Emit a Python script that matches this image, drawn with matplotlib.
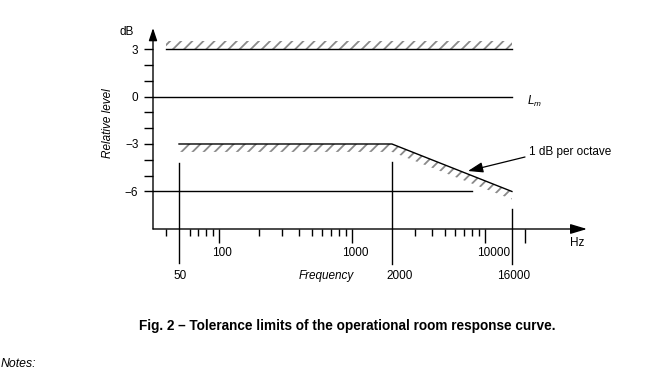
import matplotlib
matplotlib.use('Agg')
import matplotlib.pyplot as plt
import numpy as np

plt.rcParams['font.family'] = ['Liberation Sans', 'DejaVu Sans']
plt.rcParams['mathtext.fontset'] = 'custom'
plt.rcParams['mathtext.rm'] = 'Liberation Sans'
plt.rcParams['mathtext.it'] = 'Liberation Sans:italic'
plt.rcParams['hatch.linewidth'] = 1.3
plt.rcParams['hatch.color'] = '#8a8a8a'

# ---------------- data ----------------
y_major_ticks = [3, 0, -3, -6]
y_major_labels = ['3', '0', '\u22123', '\u22126']
y_minor_ticks = [2, 1, -1, -2, -4, -5]

x_decade_ticks = [100, 1000, 10000, 20000]
x_minor_ticks = [40, 60, 70, 80, 90,
                 200, 300, 400, 500, 600, 700, 800, 900,
                 3000, 4000, 5000, 6000, 7000, 8000, 9000]
row1_freqs = [100, 1000, 10000]
row1_labels = ['100', '1000', '10000']
row2_freqs = [50, 2000, 16000]
row2_labels = ['50', '2000', '16000']
marker_top_db = [-4.2, -4.15, -7.1]
marker_bottom_db = [-10.5, -10.6, -10.6]

upper_freq = [40, 16000]
upper_db = [3, 3]
lower_freq = [50, 2000, 16000]
lower_db = [-3, -3, -6]
lm_db = 0
lm_end_freq = 16000
minus6_db = -6
minus6_end_freq = 8000
hatch_depth_db = 0.5

# ---------------- layout (pixel geometry of the reference) ----------------
W, H = 651, 372
AX_L, AX_R, AX_B, AX_T = 153, 587, 229, 28
X100_PX, PX_DECADE = 219.0, 132.9
Y0_PX, PX_DB = 96.5, 15.83

def f_at(px):
    return 100 * 10 ** ((px - X100_PX) / PX_DECADE)

def db_at(py):
    return (Y0_PX - py) / PX_DB

fig = plt.figure(figsize=(W / 100, H / 100), dpi=100)
ax = fig.add_axes([AX_L / W, 1 - AX_B / H, (AX_R - AX_L) / W, (AX_B - AX_T) / H])
ax.set_xscale('log')
ax.set_xlim(f_at(AX_L), f_at(AX_R))
ax.set_ylim(db_at(AX_B), db_at(AX_T))
for s in ax.spines.values():
    s.set_visible(False)
ax.patch.set_alpha(0)

lw = 1.0
# axes with arrows
ax.annotate('', xy=(1, 0), xytext=(0, 0), xycoords='axes fraction',
            arrowprops=dict(arrowstyle='-|>,head_length=1.0,head_width=0.3',
                            color='k', lw=lw, shrinkA=0, shrinkB=0, mutation_scale=10))
ax.annotate('', xy=(0, 1), xytext=(0, 0), xycoords='axes fraction',
            arrowprops=dict(arrowstyle='-|>,head_length=0.75,head_width=0.25',
                            color='k', lw=lw, shrinkA=0, shrinkB=0, mutation_scale=10))

# ticks
ax.set_yticks(y_major_ticks)
ax.set_yticklabels(y_major_labels)
ax.set_yticks(y_minor_ticks, minor=True)
ax.tick_params(axis='y', which='both', length=6.5, width=lw, pad=4, labelsize=8.5)
ax.set_xticks(x_decade_ticks)
ax.set_xticks(x_minor_ticks, minor=True)
ax.xaxis.set_major_formatter(matplotlib.ticker.NullFormatter())
ax.xaxis.set_minor_formatter(matplotlib.ticker.NullFormatter())
ax.tick_params(axis='x', which='major', length=10, width=lw)
ax.tick_params(axis='x', which='minor', length=5, width=lw)

# hatched tolerance bands
ax.fill_between(upper_freq, upper_db, np.array(upper_db) + hatch_depth_db,
                facecolor='none', edgecolor='#8a8a8a', hatch='///', lw=0)
ax.fill_between(lower_freq, np.array(lower_db) - hatch_depth_db, lower_db,
                facecolor='none', edgecolor='#8a8a8a', hatch='///', lw=0)

# limit lines
ax.plot(upper_freq, upper_db, color='k', lw=lw)
ax.plot(lower_freq, lower_db, color='k', lw=lw)
ax.plot([f_at(AX_L), lm_end_freq], [lm_db, lm_db], color='k', lw=lw)
ax.plot([f_at(AX_L), minus6_end_freq], [minus6_db, minus6_db], color='k', lw=lw)

# vertical frequency markers
for f, t, b in zip(row2_freqs, marker_top_db, marker_bottom_db):
    ax.plot([f, f], [t, b], color='k', lw=lw, clip_on=False)

# frequency labels
fs = 8.5
row1_dx = [3, 3, 9]
for f, lab, dx in zip(row1_freqs, row1_labels, row1_dx):
    ax.annotate(lab, xy=(f, db_at(253)), xytext=(dx * 0.72, 0), textcoords='offset points',
                ha='center', va='center', fontsize=fs, annotation_clip=False)
row2_dx = [1, 8, 2]
for f, lab, dx in zip(row2_freqs, row2_labels, row2_dx):
    ax.annotate(lab, xy=(f, db_at(276)), xytext=(dx * 0.72, 0), textcoords='offset points',
                ha='center', va='center', fontsize=fs, annotation_clip=False)
ax.text(f_at(326), db_at(276), 'Frequency', style='italic', ha='center', va='center',
        fontsize=fs, clip_on=False)

# other labels
ax.text(f_at(527), db_at(101), r'$L_m$', ha='left', va='center', fontsize=fs, clip_on=False)
ax.text(f_at(529), db_at(152), '1 dB per octave', ha='left', va='center', fontsize=fs,
        clip_on=False)
ax.annotate('', xy=(f_at(468), db_at(171)), xytext=(f_at(525), db_at(157)),
            arrowprops=dict(arrowstyle='-|>,head_length=1.3,head_width=0.45',
                            color='k', lw=0.9, shrinkA=0, shrinkB=0, mutation_scale=7),
            annotation_clip=False)

fig.text(127 / W, 1 - 32 / H, 'dB', ha='center', va='center', fontsize=fs)
fig.text(577 / W, 1 - 243 / H, 'Hz', ha='center', va='center', fontsize=fs)
fig.text(108 / W, 1 - 123 / H, 'Relative level', rotation=90, style='italic',
         ha='center', va='center', fontsize=fs)

fig.text(347 / W, 1 - 326 / H,
         'Fig. 2 \u2013 Tolerance limits of the operational room response curve.',
         ha='center', va='center', fontsize=9.8, fontweight='bold')
fig.text(1 / W, 1 - 364 / H, 'Notes:', ha='left', va='center', fontsize=8.8, style='italic')

fig.savefig('out.png', dpi=100)
